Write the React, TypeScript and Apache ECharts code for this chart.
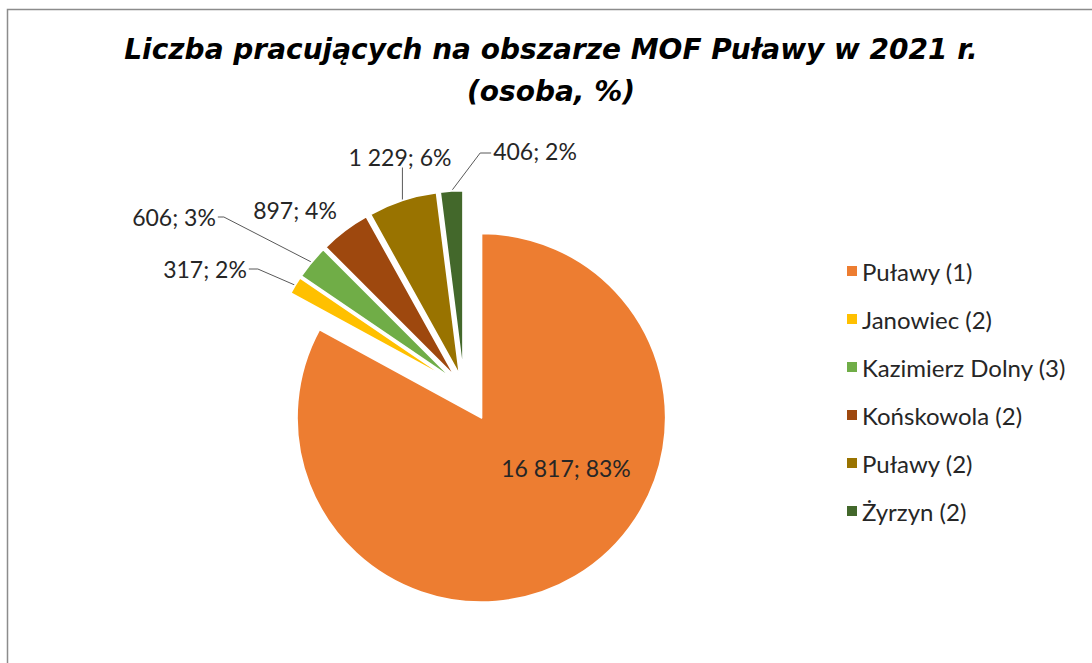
import React, { useEffect, useRef } from "react";
import * as echarts from "echarts";

const TITLE_LINES = ["Liczba pracujących na obszarze MOF Puławy w 2021 r.", "(osoba, %)"];
const CATEGORIES = ["Puławy (1)", "Janowiec (2)", "Kazimierz Dolny (3)", "Końskowola (2)", "Puławy (2)", "Żyrzyn (2)"];
const VALUES = [16817, 317, 606, 897, 1229, 406];
const COLORS = ["#ED7D31", "#FFC000", "#70AD47", "#9E480E", "#997300", "#43682B"];

// layout-only constants
const PIE_CENTER = [464, 388.5];
const PIE_RADIUS = 184.5;
const EXPLODE = [34, 13.5, 13.5, 13.5, 13.5, 13.5];
const LABEL_POS: [number, number][] = [
  [566, 468],
  [205, 269],
  [174, 217],
  [295, 210],
  [400, 157],
  [535, 151],
];
const LEADER_SIDE: (string | null)[] = [null, "right", "right", null, "bottom", "left"];
const LEADER_LEN2 = [0, 9, 6, 0, 0, 11];

const LABEL_FONT = "Lato";
const TEXT_COLOR = "#262626";

function fmtNum(v: number): string {
  return String(v).replace(/\B(?=(\d{3})+(?!\d))/g, " ");
}

const labelFormatter = (p: any) => `${fmtNum(p.value)}; ${p.percent}%`;

function buildOption() {
  const total = VALUES.reduce((a, b) => a + b, 0);
  let cum = 0;

  const series = CATEGORIES.map((_, k) => {
    const midAngle = ((cum + VALUES[k] / 2) / total) * 2 * Math.PI;
    cum += VALUES[k];
    const d = EXPLODE[k];
    const center = [PIE_CENTER[0] + d * Math.sin(midAngle), PIE_CENTER[1] - d * Math.cos(midAngle)];

    const data = CATEGORIES.map((name, i) => ({
      name,
      value: VALUES[i],
      itemStyle:
        i === k
          ? { color: COLORS[i], borderColor: "#fff", borderWidth: 2, opacity: 1 }
          : { color: COLORS[i], opacity: 0, borderWidth: 0 },
      label: i === k ? { show: true } : { show: false },
      labelLine: i === k && LEADER_SIDE[i] ? { show: true } : { show: false },
    }));

    const placeLabel = (p: any) => {
      if (p.dataIndex !== k) return {};
      const [x, y] = LABEL_POS[k];
      const out: any = { x, y, align: "center", verticalAlign: "middle" };
      const side = LEADER_SIDE[k];
      const pts = p.labelLinePoints;
      if (side && pts && pts.length) {
        const w = p.labelRect.width;
        const h = p.labelRect.height;
        const start = pts[0];
        let end: number[];
        let bend: number[];
        if (side === "right") {
          end = [x + w / 2 + 2, y];
          bend = [end[0] + LEADER_LEN2[k], y];
        } else if (side === "left") {
          end = [x - w / 2 - 2, y + 2];
          bend = [end[0] - LEADER_LEN2[k], y + 2];
        } else {
          end = [start[0], y + h / 2 - 1];
          bend = end;
        }
        out.labelLinePoints = [start, bend, end];
      }
      return out;
    };

    return {
      type: "pie",
      name: "s" + k,
      center,
      radius: PIE_RADIUS,
      startAngle: 90,
      clockwise: true,
      percentPrecision: 0,
      avoidLabelOverlap: false,
      silent: true,
      emphasis: { disabled: true },
      label: {
        position: k === 0 ? "inside" : "outside",
        formatter: labelFormatter,
        fontFamily: LABEL_FONT,
        fontSize: 23,
        color: TEXT_COLOR,
      },
      labelLine: {
        length: 20,
        length2: 8,
        lineStyle: { color: "#595959", width: 1 },
      },
      labelLayout: placeLabel,
      data,
    };
  });

  return {
    animation: false,
    backgroundColor: "#fff",
    graphic: [
      {
        type: "rect",
        shape: { x: 7.5, y: 9.5, width: 1200, height: 800 },
        style: { fill: "none", stroke: "#8c8c8c", lineWidth: 1.5 },
        silent: true,
      },
      {
        type: "text",
        x: 551,
        y: 28,
        style: {
          text: TITLE_LINES.join("\n"),
          align: "center",
          verticalAlign: "top",
          fontFamily: "DejaVu Sans",
          fontWeight: "bold",
          fontStyle: "italic",
          fontSize: 28,
          lineHeight: 42,
          fill: "#000",
        },
        silent: true,
      },
    ],
    legend: {
      orient: "vertical",
      left: 842,
      top: 254,
      itemWidth: 10,
      itemHeight: 10,
      itemGap: 24,
      icon: "rect",
      selectedMode: false,
      textStyle: { fontFamily: LABEL_FONT, fontSize: 24, color: TEXT_COLOR },
      data: CATEGORIES.map((name, i) => ({
        name,
        itemStyle: { color: COLORS[i], opacity: 1, borderWidth: 0 },
      })),
    },
    series,
  };
}

export default function App() {
  const ref = useRef<HTMLDivElement>(null);
  useEffect(() => {
    const chart = echarts.init(ref.current!, null, { renderer: "svg" });
    chart.setOption(buildOption() as any);
    return () => chart.dispose();
  }, []);
  return (
    <div
      ref={ref}
      style={{ position: "fixed", left: 0, top: 0, width: 1092, height: 663, background: "#fff" }}
    />
  );
}
